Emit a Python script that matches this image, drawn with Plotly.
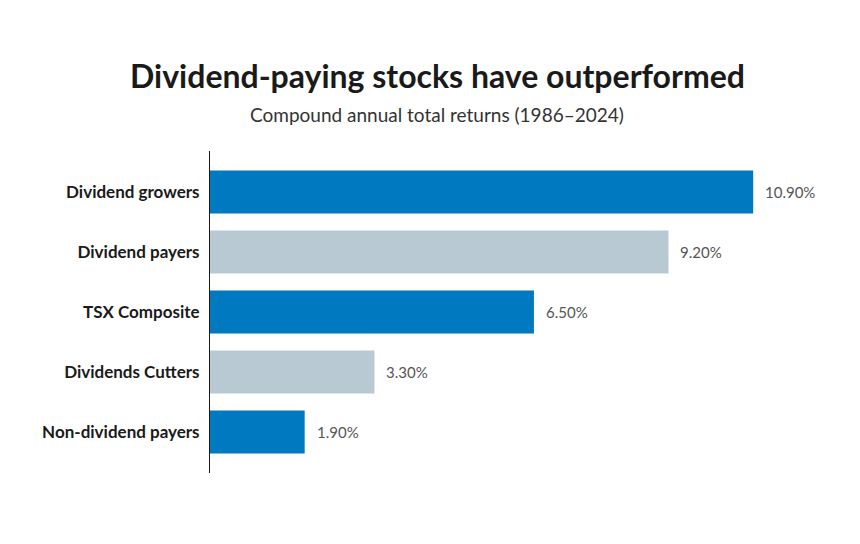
import plotly.graph_objects as go

# Data
categories = ["Dividend growers", "Dividend payers", "TSX Composite",
              "Dividends Cutters", "Non-dividend payers"]
returns = [10.90, 9.20, 6.50, 3.30, 1.90]
value_labels = ["10.90%", "9.20%", "6.50%", "3.30%", "1.90%"]

BLUE = "#0079C1"
GREY = "#B9C9D3"
bar_colors = [BLUE, GREY, BLUE, GREY, BLUE]

FONT = "Lato"

fig = go.Figure(go.Bar(
    x=returns,
    y=categories,
    orientation="h",
    marker=dict(color=bar_colors, line=dict(width=0)),
    width=0.72,
    hoverinfo="skip",
))

# value labels to the right of each bar
for cat, val, lab in zip(categories, returns, value_labels):
    fig.add_annotation(
        x=val, y=cat, text=lab, showarrow=False,
        xanchor="left", xshift=10,
        font=dict(family=FONT, size=15, color="#555555"),
    )

# title + subtitle
fig.add_annotation(
    text="<b>Dividend-paying stocks have outperformed</b>",
    xref="paper", yref="paper", x=0.38, y=1.236,
    xanchor="center", yanchor="middle", showarrow=False,
    font=dict(family=FONT, size=32, color="#1a1a1a"),
)
fig.add_annotation(
    text="Compound annual total returns (1986\u20132024)",
    xref="paper", yref="paper", x=0.38, y=1.112,
    xanchor="center", yanchor="middle", showarrow=False,
    font=dict(family=FONT, size=19, color="#333333"),
)

fig.update_layout(
    width=860, height=544,
    # page body adds an 8px offset, margins compensate
    margin=dict(l=202, r=60, t=143, b=79),
    paper_bgcolor="white",
    plot_bgcolor="white",
    showlegend=False,
    xaxis=dict(range=[0, 12], visible=False, fixedrange=True),
    yaxis=dict(
        categoryorder="array", categoryarray=categories,
        range=[4.683, -0.683],
        showline=True, linecolor="#1a1a1a", linewidth=1,
        showgrid=False, zeroline=False, ticks="",
        ticklabelstandoff=6,
        tickfont=dict(family=FONT, size=17, color="#1a1a1a", weight="bold"),
        fixedrange=True,
    ),
)

fig.write_html("out.html")
